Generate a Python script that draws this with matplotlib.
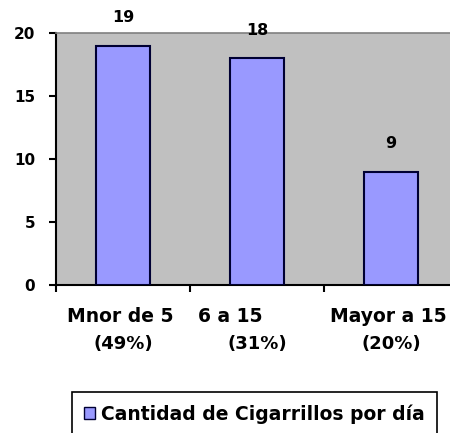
import matplotlib
matplotlib.use("Agg")
import matplotlib.pyplot as plt
import matplotlib.transforms as mtransforms
from matplotlib.patches import Patch

categories = ["Mnor de 5", "6 a 15", "Mayor a 15"]
shares = ["(49%)", "(31%)", "(20%)"]
values = [19, 18, 9]
series_name = "Cantidad de Cigarrillos por día"
yticks = [0, 5, 10, 15, 20]

plt.rcParams["font.family"] = ["DejaVu Sans"]
plt.rcParams["font.weight"] = "bold"

W, H = 450, 433
fig = plt.figure(figsize=(W / 100, H / 100), dpi=100)
fig.patch.set_facecolor("white")

ax = fig.add_axes([56 / W, 148 / H, 402 / W, 252 / H])
ax.set_facecolor("#c0c0c0")

x = list(range(len(categories)))
ax.bar(x, values, width=0.41, color="#9999ff", edgecolor="#000033", linewidth=1.5, zorder=3)

ax.set_xlim(-0.5, len(categories) - 0.5)
ax.set_ylim(0, 20)

# spines: black axes lines, grey frame on top
ax.spines["left"].set_color("black")
ax.spines["left"].set_linewidth(1.5)
ax.spines["bottom"].set_color("black")
ax.spines["bottom"].set_linewidth(1.5)
ax.spines["top"].set_color("#808080")
ax.spines["top"].set_linewidth(1.2)
ax.spines["right"].set_visible(False)

ax.set_yticks(yticks)
ax.set_yticklabels([str(v) for v in yticks], fontsize=11, fontweight="bold")
ax.tick_params(axis="y", direction="out", length=5, width=1.5, pad=10, colors="black")

# category boundary ticks along x
ax.set_xticks([i - 0.5 for i in range(len(categories) + 1)])
ax.set_xticklabels([])
ax.tick_params(axis="x", direction="out", length=5, width=1.5, colors="black")

# value labels above bars
for xi, v in zip(x, values):
    ax.annotate(str(v), (xi, v), xytext=(0, 20), textcoords="offset points",
                ha="center", va="center", fontsize=11.5, fontweight="bold", zorder=4)

# two-line category labels below the axis
line1_shift = [-3, -27, -3]
base = mtransforms.blended_transform_factory(ax.transData, ax.transAxes)
for xi, cat, sh, dx in zip(x, categories, shares, line1_shift):
    off1 = base + mtransforms.ScaledTranslation(dx / 100, -32 / 100, fig.dpi_scale_trans)
    off2 = base + mtransforms.ScaledTranslation(0, -59 / 100, fig.dpi_scale_trans)
    ax.text(xi, 0, cat, transform=off1, ha="center", va="center",
            fontsize=13.5, fontweight="bold")
    ax.text(xi, 0, sh, transform=off2, ha="center", va="center",
            fontsize=13, fontweight="bold")

handle = Patch(facecolor="#9999ff", edgecolor="#000033", linewidth=1.0)
leg = fig.legend([handle], [series_name], loc="upper left",
                 bbox_to_anchor=(72 / W, 1 - 392 / H), frameon=True, fancybox=False,
                 edgecolor="black", framealpha=1, fontsize=13.5, handlelength=0.6,
                 handleheight=0.6, handletextpad=0.3, borderpad=0.65, borderaxespad=0)
leg.get_frame().set_linewidth(1.2)

fig.savefig("out.png", dpi=100, facecolor="white")
